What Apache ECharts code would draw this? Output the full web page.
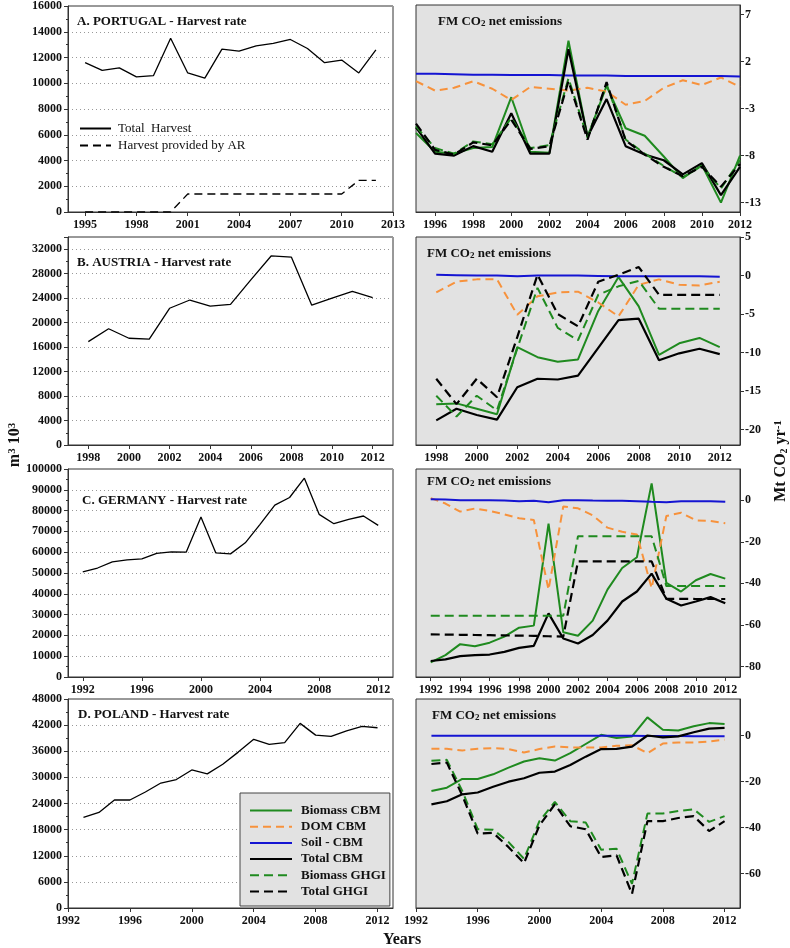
<!DOCTYPE html>
<html><head><meta charset="utf-8">
<script src="https://cdn.jsdelivr.net/npm/echarts@6/dist/echarts.min.js"></script>
<style>html,body{margin:0;padding:0;background:#fff}#c{width:790px;height:948px}</style>
</head><body><div id="c"></div>
<script>
// ---------------- DATA ----------------
const yearsPT = [1995,1996,1997,1998,1999,2000,2001,2002,2003,2004,2005,2006,2007,2008,2009,2010,2011,2012];
const ptHarvest = [11600,11000,11200,10500,10600,13500,10800,10400,12650,12500,12900,13100,13400,12700,11600,11800,10800,12600];
const ptHarvestAR = [0,0,0,0,0,0,1400,1400,1400,1400,1400,1400,1400,1400,1400,1400,2450,2450];
const ptBiomassCBM = [-5.6,-7.6,-7.8,-7.2,-7.1,-1.8,-7.6,-7.7,4.2,-6.0,-0.6,-5.1,-5.9,-8.1,-10.4,-9.0,-13.0,-8.0];
const ptDOM = [-0.1,-1.1,-0.8,-0.1,-0.9,-2.1,-0.7,-0.9,-1.1,-0.8,-1.2,-2.6,-2.2,-0.8,0.0,-0.5,0.3,-0.7];
const ptSoil = [0.7,0.7,0.65,0.6,0.6,0.55,0.55,0.55,0.5,0.5,0.5,0.45,0.45,0.45,0.45,0.45,0.45,0.4];
const ptTotalCBM = [-5.0,-7.8,-8.0,-7.0,-7.6,-3.5,-7.8,-7.8,3.3,-6.0,-2.0,-7.0,-7.9,-8.5,-10.0,-8.8,-12.2,-9.2];
const ptBiomassGHGI = [-4.9,-7.2,-7.8,-6.5,-6.8,-4.0,-7.2,-6.9,0.2,-6.1,-0.4,-6.3,-7.8,-9.1,-10.3,-9.1,-11.5,-8.5];
const ptTotalGHGI = [-4.6,-7.4,-7.9,-6.6,-6.9,-4.2,-7.3,-7.0,-0.1,-6.3,-0.2,-6.4,-7.9,-9.2,-10.2,-9.2,-11.3,-8.9];

const yearsAT = [1998,1999,2000,2001,2002,2003,2004,2005,2006,2007,2008,2009,2010,2011,2012];
const atHarvest = [16900,19000,17450,17300,22350,23700,22700,23000,27000,30900,30700,22850,24000,25100,24100];
const atBiomassCBM = [-16.7,-16.6,-17.3,-18.0,-9.3,-10.6,-11.2,-10.9,-4.6,-0.2,-4.0,-10.3,-8.8,-8.1,-9.3];
const atDOM = [-2.2,-0.8,-0.5,-0.5,-5.1,-2.7,-2.2,-2.1,-3.5,-5.3,-1.2,-0.5,-1.2,-1.3,-0.8];
const atSoil = [0.1,0.05,0,0,-0.1,0,0,0,-0.05,-0.1,-0.1,-0.1,-0.1,-0.1,-0.15];
const atTotalCBM = [-18.8,-17.3,-18.1,-18.7,-14.5,-13.4,-13.5,-13.0,-9.4,-5.8,-5.6,-11.0,-10.1,-9.5,-10.2];
const atBiomassGHGI = [-15.6,-18.3,-15.6,-17.5,-9.5,-1.6,-6.8,-8.4,-2.5,-1.4,-0.7,-4.3,-4.3,-4.3,-4.3];
const atTotalGHGI = [-13.4,-16.7,-13.4,-15.8,-8.0,0.1,-5.0,-6.6,-0.8,0.1,1.1,-2.5,-2.5,-2.5,-2.5];

const yearsDE = [1992,1993,1994,1995,1996,1997,1998,1999,2000,2001,2002,2003,2004,2005,2006,2007,2008,2009,2010,2011,2012];
const deHarvest = [50500,52400,55300,56300,56800,59400,60200,60000,76900,59700,59200,64500,73400,82600,86300,95600,78200,73700,75800,77400,72900];
const deBiomassCBM = [-78,-74.5,-69.2,-70.2,-68.5,-65.6,-61.3,-60.3,-11.3,-63.5,-65.2,-57.9,-43,-32.6,-27.4,8.1,-39.8,-43.9,-38.5,-35.5,-37.7];
const deDOM = [1,-1.6,-5.5,-4,-5.2,-6.8,-8.7,-9.5,-43,-3,-3.9,-7.3,-13.2,-15.2,-16.5,-42.3,-7.6,-6,-9.7,-10,-11.1];
const deSoil = [0.5,0.3,0,0,0,-0.2,-0.5,-0.3,-1,0,0,-0.2,-0.3,-0.3,-0.5,-0.8,-1,-0.5,-0.5,-0.5,-0.8];
const deTotalCBM = [-77.3,-76.5,-75,-74.5,-74.2,-72.9,-71,-70,-54.4,-66.5,-68.9,-64.8,-57.9,-48.7,-43.9,-35.3,-47.4,-50.6,-48.7,-46.6,-49.5];
const deBiomassGHGI = [-55.6,-55.6,-55.6,-55.6,-55.6,-55.6,-55.6,-55.6,-55.6,-55.6,-17.3,-17.3,-17.3,-17.3,-17.3,-17.3,-41.3,-41.3,-41.3,-41.3,-41.3];
const deTotalGHGI = [-64.5,-64.6,-64.7,-64.8,-64.9,-65,-65.1,-65.2,-65.4,-65.6,-29.4,-29.4,-29.4,-29.4,-29.4,-29.4,-47.4,-47.4,-47.5,-47.5,-47.5];

const yearsPL = [1993,1994,1995,1996,1997,1998,1999,2000,2001,2002,2003,2004,2005,2006,2007,2008,2009,2010,2011,2012];
const plHarvest = [20800,21950,24800,24800,26650,28700,29500,31700,30800,33000,35800,38750,37600,38000,42400,39700,39400,40700,41700,41400];
const plBiomassCBM = [-24.1,-22.6,-18.8,-18.8,-16.8,-13.9,-11.2,-9.8,-10.8,-7.6,-3.6,0.4,-1.0,-0.3,8.0,2.6,2.3,4.1,5.5,5.1];
const plDOM = [-5.7,-5.7,-6.4,-5.7,-5.4,-5.8,-7.3,-5.8,-4.7,-5.1,-5.1,-5.1,-4.4,-4.1,-7.6,-3.4,-2.9,-2.9,-2.5,-1.75];
const plSoil = [0,0,0,0,0,0,0,0,0,0,0,0,0,0,-0.1,-0.1,-0.1,-0.2,-0.2,-0.2];
const plTotalCBM = [-29.9,-28.5,-25.5,-24.7,-22.2,-20,-18.5,-16.1,-15.6,-12.7,-9.1,-5.8,-5.7,-4.7,0.1,-0.7,-0.3,1.5,3.1,3.4];
const plBiomassGHGI = [-10.9,-10.5,-24,-40.7,-40.9,-46.3,-53.6,-37.2,-28.8,-37.2,-37.8,-49.6,-49.2,-64.5,-33.9,-33.9,-32.8,-32,-37.5,-35];
const plTotalGHGI = [-12.3,-11.7,-26,-42.6,-42.3,-48.5,-55.5,-39,-29.9,-39.4,-40.7,-52.8,-52.1,-68.9,-37.2,-37.2,-35.8,-35,-41.5,-37.2];

// tick labels
const xTicksA_L = [1995,1998,2001,2004,2007,2010,2013];
const xTicksA_R = [1996,1998,2000,2002,2004,2006,2008,2010,2012];
const xTicksB = [1998,2000,2002,2004,2006,2008,2010,2012];
const xTicksC_L = [1992,1996,2000,2004,2008,2012];
const xTicksC_R = [1992,1994,1996,1998,2000,2002,2004,2006,2008,2010,2012];
const xTicksD = [1992,1996,2000,2004,2008,2012];
const yTicksA_R = [7,2,-3,-8,-13];
const yTicksB_R = [5,0,-5,-10,-15,-20];
const yTicksC_R = [0,-20,-40,-60,-80];
const yTicksD_R = [0,-20,-40,-60];

const emNames = ['Biomass CBM','DOM CBM','Soil - CBM','Total CBM','Biomass GHGI','Total GHGI'];

// ---------------- CHART ----------------
const FONT = '"Liberation Serif","Times New Roman",serif';
const GREEN = '#1f8a1f', ORANGE = '#f7923c', BLUE = '#1414d2', BLACK = '#000';
const LT = 68, LW = 325, RT = 416, RW = 324;
const rows = [[5,207],[237,208],[469,208],[699,209]];

const grids = [];
rows.forEach(r => {
  grids.push({left:LT, top:r[0], width:LW, height:r[1], show:true, backgroundColor:'rgba(0,0,0,0)', borderColor:'#333', borderWidth:1, containLabel:false});
  grids.push({left:RT, top:r[0], width:RW, height:r[1], show:true, backgroundColor:'#e2e2e2', borderColor:'#333', borderWidth:1, containLabel:false});
});

const lab = {fontFamily:FONT, fontWeight:'bold', fontSize:12, color:'#111'};
function xAx(gi, min, max, ticks) {
  return {type:'value', gridIndex:gi, min, max, position:'bottom',
    axisLine:{show:true, onZero:false, lineStyle:{color:'#333'}},
    axisTick:{show:true, length:4, customValues:ticks, lineStyle:{color:'#333'}},
    axisLabel:Object.assign({customValues:ticks, margin:7, formatter:v=>String(v)}, lab),
    splitLine:{show:false}};
}
function yAxL(gi, min, max, interval) {
  return {type:'value', gridIndex:gi, min, max, interval, position:'left',
    axisLine:{show:true, lineStyle:{color:'#333'}},
    axisTick:{show:true, length:4, lineStyle:{color:'#333'}},
    minorTick:{show:true, splitNumber:2, length:2, lineStyle:{color:'#333'}},
    axisLabel:Object.assign({margin:6, showMaxLabel: max % interval === 0, formatter:v=>String(v)}, lab),
    splitLine:{show:true, lineStyle:{type:[1,3], color:'#999', width:1}}};
}
function yAxR(gi, min, max, ticks) {
  return {type:'value', gridIndex:gi, min, max, position:'right',
    axisLine:{show:true, lineStyle:{color:'#333'}},
    axisTick:{show:true, length:4, customValues:ticks, lineStyle:{color:'#333'}},
    axisLabel:Object.assign({customValues:ticks, margin:5, formatter:v=>String(v)}, lab),
    splitLine:{show:false}};
}

const xAxis = [
  xAx(0,1994,2013,xTicksA_L), xAx(1,1995,2012,xTicksA_R),
  xAx(2,1997,2013,xTicksB),   xAx(3,1997,2013,xTicksB),
  xAx(4,1991,2013,xTicksC_L), xAx(5,1991,2013,xTicksC_R),
  xAx(6,1992,2013,xTicksD),   xAx(7,1992,2013,xTicksD)
];
const yAxis = [
  yAxL(0,0,16000,2000),  yAxR(1,-14,8,yTicksA_R),
  yAxL(2,0,34000,4000),  yAxR(3,-22,5,yTicksB_R),
  yAxL(4,0,100000,10000),yAxR(5,-85,15,yTicksC_R),
  yAxL(6,0,48000,6000),  yAxR(7,-75,16,yTicksD_R)
];

const zip = (xs, vs) => xs.map((x,i)=>[x, vs[i]]);
const series = [];
function harvest(gi, name, years, vals, dashed) {
  series.push({type:'line', name, xAxisIndex:gi, yAxisIndex:gi, data:zip(years, vals), symbol:'none',
    lineStyle:{color:'#000', width:1.3, type: dashed ? [8,5] : 'solid'}, itemStyle:{color:'#000'}});
}
function emissions(gi, years, arrs) {
  const styles = [
    {color:GREEN, type:'solid', width:2},
    {color:ORANGE, type:[8,5], width:2},
    {color:BLUE, type:'solid', width:2},
    {color:BLACK, type:'solid', width:2.2},
    {color:GREEN, type:[9,5], width:2},
    {color:BLACK, type:[9,5], width:2.2}
  ];
  const order = [2,1,0,4,3,5];
  order.forEach(k => {
    series.push({type:'line', name:emNames[k], xAxisIndex:gi, yAxisIndex:gi, data:zip(years, arrs[k]), symbol:'none',
      lineStyle:styles[k], itemStyle:{color:styles[k].color}, z:2+k});
  });
}
harvest(0, 'Total  Harvest', yearsPT, ptHarvest, false);
harvest(0, 'Harvest provided by AR', yearsPT, ptHarvestAR, true);
emissions(1, yearsPT, [ptBiomassCBM, ptDOM, ptSoil, ptTotalCBM, ptBiomassGHGI, ptTotalGHGI]);
harvest(2, 'Harvest Austria', yearsAT, atHarvest, false);
emissions(3, yearsAT, [atBiomassCBM, atDOM, atSoil, atTotalCBM, atBiomassGHGI, atTotalGHGI]);
harvest(4, 'Harvest Germany', yearsDE, deHarvest, false);
emissions(5, yearsDE, [deBiomassCBM, deDOM, deSoil, deTotalCBM, deBiomassGHGI, deTotalGHGI]);
harvest(6, 'Harvest Poland', yearsPL, plHarvest, false);
emissions(7, yearsPL, [plBiomassCBM, plDOM, plSoil, plTotalCBM, plBiomassGHGI, plTotalGHGI]);

const tStyle = {fontFamily:FONT, fontWeight:'bold', fontSize:13, color:'#111',
  rich:{s:{fontFamily:FONT, fontWeight:'bold', fontSize:9, color:'#111', verticalAlign:'bottom', lineHeight:9}}};
const mkTitle = (text, left, top) => ({text, left, top, padding:0, textStyle:tStyle});
const title = [
  mkTitle('A. PORTUGAL - Harvest rate', 77, 15),
  mkTitle('B. AUSTRIA - Harvest rate', 77, 256),
  mkTitle('C. GERMANY - Harvest rate', 82, 494),
  mkTitle('D. POLAND - Harvest rate', 78, 708),
  mkTitle('FM CO{s|2} net emissions', 438, 15),
  mkTitle('FM CO{s|2} net emissions', 427, 247),
  mkTitle('FM CO{s|2} net emissions', 427, 475),
  mkTitle('FM CO{s|2} net emissions', 432, 709)
];

const legend = [
  {data:['Total  Harvest','Harvest provided by AR'], orient:'vertical', left:79, top:122, padding:0,
   itemWidth:31, itemHeight:12, itemGap:4, selectedMode:false, itemStyle:{opacity:0},
   textStyle:{fontFamily:FONT, fontSize:13, color:'#111', padding:[0,0,0,2]}},
  {data:emNames, orient:'vertical', left:240, top:793, padding:[11,4,8,9],
   backgroundColor:'#e2e2e2', borderColor:'#444', borderWidth:1,
   itemWidth:42, itemHeight:14, itemGap:3.2, selectedMode:false, itemStyle:{opacity:0},
   textStyle:{fontFamily:FONT, fontWeight:'bold', fontSize:13, color:'#111', padding:[0,0,0,4]}}
];

const graphic = [
  {type:'text', x:15, y:445, rotation:Math.PI/2,
   style:{text:'m{u|3} 10{u|3}', fontFamily:FONT, fontWeight:'bold', fontSize:16, fill:'#111', align:'center', verticalAlign:'middle',
     rich:{u:{fontFamily:FONT, fontWeight:'bold', fontSize:11, fill:'#111', verticalAlign:'top', lineHeight:11}}}},
  {type:'text', x:781, y:461, rotation:Math.PI/2,
   style:{text:'Mt CO{d|2} yr{u|-1}', fontFamily:FONT, fontWeight:'bold', fontSize:16, fill:'#111', align:'center', verticalAlign:'middle',
     rich:{u:{fontFamily:FONT, fontWeight:'bold', fontSize:11, fill:'#111', verticalAlign:'top', lineHeight:11},
           d:{fontFamily:FONT, fontWeight:'bold', fontSize:10, fill:'#111', verticalAlign:'bottom', lineHeight:10}}}},
  {type:'text', x:402, y:940,
   style:{text:'Years', fontFamily:FONT, fontWeight:'bold', fontSize:16, fill:'#111', align:'center', verticalAlign:'middle'}}
];

const chart = echarts.init(document.getElementById('c'), null, {renderer:'canvas'});
chart.setOption({animation:false, backgroundColor:'#fff', grid:grids, xAxis, yAxis, series, title, legend, graphic});
</script></body></html>
